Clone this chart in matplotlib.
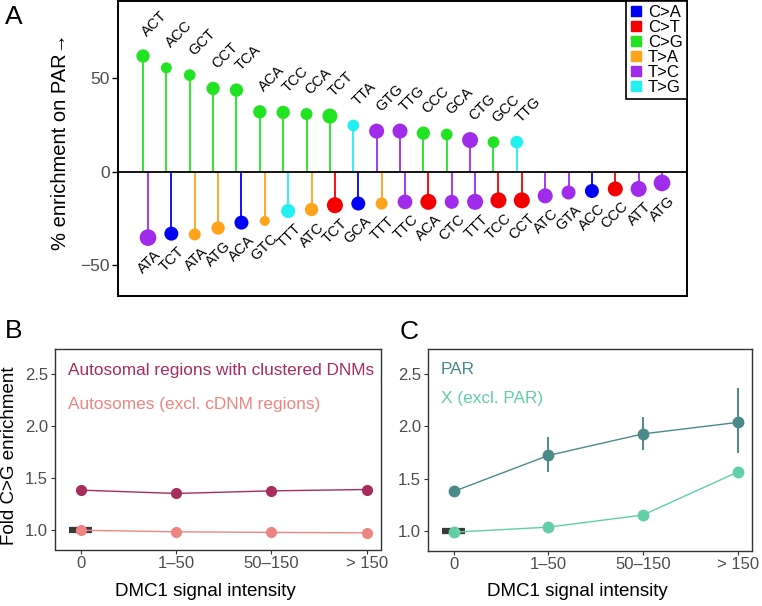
import matplotlib
matplotlib.use("Agg")
import matplotlib.pyplot as plt
from matplotlib.lines import Line2D
import numpy as np

plt.rcParams["font.family"] = ["Liberation Sans", "DejaVu Sans"]

W, H, DPI = 762, 606, 100

MUT_COLORS = {
    "C>A": "#0000F5", "C>T": "#F50000", "C>G": "#22E322",
    "T>A": "#FFA31A", "T>C": "#A02BEB", "T>G": "#22F0F0",
}

# --- panel A: trinucleotide contexts, enriched (top) / depleted (bottom) on PAR
pos_ctx = ["ACT", "ACC", "GCT", "CCT", "TCA", "ACA", "TCC", "CCA", "TCT",
           "TTA", "GTG", "TTG", "CCC", "GCA", "CTG", "GCC", "TTG"]
pos_mut = ["C>G"] * 9 + ["T>G", "T>C", "T>C", "C>G", "C>G", "T>C", "C>G", "T>G"]
pos_val = [61.9, 55.6, 51.7, 44.6, 43.7, 32.1, 31.8, 30.9, 29.8,
           24.8, 21.8, 21.8, 20.7, 20.0, 17.0, 15.9, 15.9]
pos_n = [13.3, 11, 11.7, 13.3, 13.3, 13.3, 13.3, 12, 15,
         11.7, 15, 15, 13.3, 11.7, 16, 11.7, 12.7]

neg_ctx = ["ATA", "TCT", "ATA", "ATG", "ACA", "GTC", "TTT", "ATC", "TCT", "GCA",
           "TTT", "TTC", "ACA", "CTC", "TTT", "TCC", "CCT", "ATC", "GTA", "ACC",
           "CCC", "ATT", "ATG"]
neg_mut = ["T>C", "C>A", "T>A", "T>A", "C>A", "T>A", "T>G", "T>A", "C>T", "C>A",
           "T>A", "T>C", "C>T", "T>C", "T>C", "C>T", "C>T", "T>C", "T>C", "C>A",
           "C>T", "T>C", "T>C"]
neg_val = [-35.1, -33.0, -33.4, -30.0, -27.1, -26.2, -20.9, -20.1, -17.8, -16.9,
           -16.9, -16.0, -16.0, -16.0, -16.0, -15.2, -15.2, -12.8, -11.0, -10.2,
           -9.1, -9.1, -5.9]
neg_n = [16.7, 14, 12, 13.3, 14, 10, 14, 13.3, 16, 14, 12, 14.7, 16, 14,
         16, 16, 16, 15, 14, 14, 15, 16, 16.7]

# --- panels B and C: fold C>G enrichment by DMC1 signal
dmc1_bins = ["0", "1\u201350", "50\u2013150", "> 150"]
clustered = [1.385, 1.353, 1.378, 1.391]
autosomes = [1.0, 0.985, 0.979, 0.975]
par = [1.379, 1.723, 1.929, 2.039]
par_lo = [1.379, 1.564, 1.774, 1.742]
par_hi = [1.379, 1.895, 2.089, 2.366]
x_nopar = [0.99, 1.038, 1.154, 1.565]

TICK_GREY = "#4D4D4D"


def px_axes(fig, l, t, r, b):
    return fig.add_axes([l / W, 1 - b / H, (r - l) / W, (b - t) / H])


def dot_area(d_px):
    return (np.asarray(d_px) * 72 / DPI) ** 2


fig = plt.figure(figsize=(W / DPI, H / DPI), dpi=DPI)

# ---------------- A
ax = px_axes(fig, 118, 1, 687, 296)
xn = np.arange(len(neg_val))
xp = np.arange(len(pos_val)) - 0.214
ax.vlines(xp, 0, pos_val, colors=[MUT_COLORS[m] for m in pos_mut], lw=1.3, zorder=2)
ax.vlines(xn, 0, neg_val, colors=[MUT_COLORS[m] for m in neg_mut], lw=1.3, zorder=2)
ax.axhline(0, color="black", lw=1.3, zorder=3)
ax.scatter(xp, pos_val, s=dot_area(pos_n), c=[MUT_COLORS[m] for m in pos_mut],
           linewidths=0, zorder=4)
ax.scatter(xn, neg_val, s=dot_area(neg_n), c=[MUT_COLORS[m] for m in neg_mut],
           linewidths=0, zorder=4)
for x, v, t in zip(xp, pos_val, pos_ctx):
    ax.annotate(t, (x, v), xytext=(4.5, 12.5), textcoords="offset points",
                rotation=45, rotation_mode="anchor", ha="left", va="bottom",
                fontsize=10.5)
for x, v, t in zip(xn, neg_val, neg_ctx):
    ax.annotate(t, (x, v), xytext=(4, -7.5), textcoords="offset points",
                rotation=45, rotation_mode="anchor", ha="right", va="top",
                fontsize=10.5)
ax.set_xlim(-1.284, 23.07)
ax.set_ylim(-66.3, 91.3)
ax.set_xticks([])
ax.set_yticks([-50, 0, 50])
ax.set_yticklabels(["\u221250", "0", "50"])
ax.tick_params(axis="y", length=4, width=1, pad=2, labelsize=12.5,
               labelcolor=TICK_GREY, color="black")
for s in ax.spines.values():
    s.set_linewidth(1.4)
    s.set_color("black")
handles = [Line2D([], [], marker="s", ls="", color=c, markersize=6.5)
           for c in MUT_COLORS.values()]
leg = ax.legend(handles, list(MUT_COLORS.keys()), loc="upper right",
                bbox_to_anchor=(1.0, 1.0), borderaxespad=0, fontsize=12,
                handlelength=0.8, handletextpad=0.3, borderpad=0.25,
                labelspacing=0.0, fancybox=False, framealpha=1)
leg.get_frame().set_edgecolor("black")
leg.get_frame().set_linewidth(1.2)
fig.text(60 / W, 1 - 142 / H, "% enrichment on PAR\u2192", rotation=90,
         ha="center", va="center", fontsize=14.5)


def style_bc(ax):
    ax.set_xlim(-0.27, 3.15)
    ax.set_ylim(0.815, 2.74)
    ax.set_xticks(range(len(dmc1_bins)))
    ax.set_xticklabels(dmc1_bins)
    ax.set_yticks([1.0, 1.5, 2.0, 2.5])
    ax.set_yticklabels(["1.0", "1.5", "2.0", "2.5"])
    ax.tick_params(length=3, width=0.8, pad=2, labelsize=12, color="#333333",
                   labelcolor=TICK_GREY)
    for s in ax.spines.values():
        s.set_linewidth(1.0)
        s.set_color("#333333")
    ax.hlines(1.0, -0.12, 0.12, color="#3A3A3A", lw=4.5, zorder=1)


# ---------------- B
CL_DARK, CL_LIGHT = "#A82C5E", "#EF8582"
axb = px_axes(fig, 55, 349, 381, 549.5)
style_bc(axb)
xb = np.arange(len(dmc1_bins))
axb.plot(xb, clustered, color=CL_DARK, lw=1, marker="o", ms=7, zorder=3)
axb.plot(xb, autosomes, color=CL_LIGHT, lw=1, marker="o", ms=7, zorder=3)
fig.text(68 / W, 1 - 370 / H, "Autosomal regions with clustered DNMs",
         color=CL_DARK, ha="left", va="center", fontsize=12.4)
fig.text(68 / W, 1 - 404 / H, "Autosomes (excl. cDNM regions)",
         color=CL_LIGHT, ha="left", va="center", fontsize=12.4)
fig.text(10 / W, 1 - 456 / H, "Fold C>G enrichment", rotation=90,
         ha="center", va="center", fontsize=13.5)
fig.text(205 / W, 1 - 591 / H, "DMC1 signal intensity", ha="center",
         va="center", fontsize=13.5)

# ---------------- C
PAR_C, XC = "#4B8A89", "#62CFA7"
axc = px_axes(fig, 428, 349, 752, 550.5)
style_bc(axc)
axc.vlines(xb, par_lo, par_hi, color=PAR_C, lw=1.4, zorder=2)
axc.plot(xb, par, color=PAR_C, lw=1, marker="o", ms=7.5, zorder=3)
axc.plot(xb, x_nopar, color=XC, lw=1, marker="o", ms=7.5, zorder=3)
fig.text(441 / W, 1 - 369 / H, "PAR", color=PAR_C, ha="left", va="center",
         fontsize=12.4)
fig.text(441 / W, 1 - 398 / H, "X (excl. PAR)", color=XC, ha="left",
         va="center", fontsize=12.4)
fig.text(577 / W, 1 - 591 / H, "DMC1 signal intensity", ha="center",
         va="center", fontsize=13.5)

# panel letters
for lab, (px, py) in {"A": (14, 17), "B": (14, 331), "C": (409, 332)}.items():
    fig.text(px / W, 1 - py / H, lab, ha="center", va="center", fontsize=19)

fig.savefig("out.png", dpi=DPI)
